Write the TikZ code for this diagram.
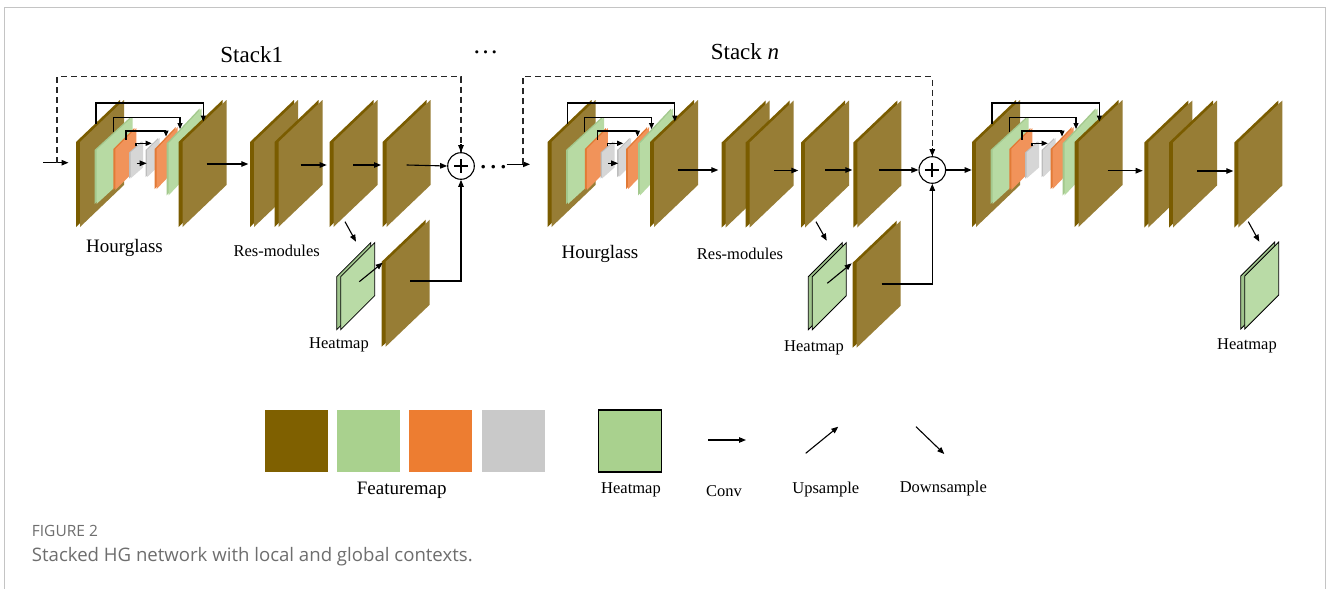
\documentclass[tikz,border=0pt]{standalone}
\usepackage{fontspec}
\setmainfont{Liberation Serif}
\newfontfamily\capfont{Open Sans}
\usetikzlibrary{arrows.meta}
\definecolor{brF}{HTML}{977D35}
\definecolor{brD}{HTML}{7A5C00}
\definecolor{brL}{HTML}{7F6000}
\definecolor{grF}{HTML}{B7DAA3}
\definecolor{grD}{HTML}{A3C88D}
\definecolor{grL}{HTML}{A9D18E}
\definecolor{orF}{HTML}{F1935A}
\definecolor{orD}{HTML}{E27A36}
\definecolor{orL}{HTML}{ED7D31}
\definecolor{gyF}{HTML}{D6D6D6}
\definecolor{gyD}{HTML}{BDBDBD}
\definecolor{gyL}{HTML}{C9C9C9}
\definecolor{hmF}{HTML}{B9DBA6}
\definecolor{hmD}{HTML}{9FC48C}
\definecolor{capgray}{HTML}{6E6E6E}
\definecolor{framegray}{HTML}{C4C4C4}
% x, ytop, thickness, width, rise, height, front colour, edge colour
\newcommand{\plate}[8]{%
  \fill[#8] (#1,#2) -- ++(#4,-#5) -- ++(0,#6) -- ++(-#4,#5) -- cycle;
  \fill[#7] ({#1+#3},#2) -- ++(#4,-#5) -- ++(0,#6) -- ++(-#4,#5) -- cycle;}
\newcommand{\bplate}[2]{\plate{#1}{#2}{4}{44}{42}{85}{brF}{brD}}
\newcommand{\hplate}[2]{%
  \filldraw[fill=hmD,draw=black,line width=0.8pt] (#1,#2) -- ++(34,-34) -- ++(0,53) -- ++(-34,34) -- cycle;
  \filldraw[fill=hmF,draw=black,line width=0.8pt] ({#1+4},#2) -- ++(34,-34) -- ++(0,53) -- ++(-34,34) -- cycle;}
\newcommand{\hourglassblock}{%
  \bplate{76}{142}
  \plate{94.5}{150}{2}{36}{33}{54}{grF}{grD}
  \plate{113.3}{149}{2}{21}{21}{41}{orF}{orD}
  \plate{129}{152.5}{1.5}{12.5}{11}{26}{gyF}{gyD}
  \plate{145.7}{150}{1.5}{12.5}{12}{27}{gyF}{gyD}
  \plate{154.7}{149}{2}{21}{22}{40}{orF}{orD}
  \plate{166.5}{143.5}{2}{33}{35}{52}{grF}{grD}
  \bplate{178.5}{142}
  \draw[sarr] (96,124) |- (203.3,103) -- (203.3,121.5);
  \draw[sarr] (113.3,132) |- (180,117.3) -- (180,129);
  \draw[sarr] (126,139.5) |- (166,131) -- (166,136.5);
  \draw[sarr] (136,146) |- (151.7,143.3);}
\begin{document}
\begin{tikzpicture}[x=1pt,y=-1pt,
  arr/.style={line width=1.1pt,-{Triangle[length=7pt,width=5.5pt]}},
  sarr/.style={line width=1.1pt,-{Triangle[length=6pt,width=5pt]}},
  dline/.style={line width=1.2pt,dash pattern=on 6pt off 4pt,draw=black!85},
  plus/.style={circle,draw,line width=1.1pt,minimum size=26.6pt,inner sep=0pt},
  lbl/.style={inner sep=0pt,font=\fontsize{16.5}{18}\selectfont},
  big/.style={inner sep=0pt,font=\fontsize{19}{21}\selectfont},
  legsq/.style={minimum width=63pt,minimum height=62pt,inner sep=0pt}]
\useasboundingbox (0,0) rectangle (1328,589);
\fill[white] (0,0) rectangle (1328,589);
\draw[framegray,line width=1.5pt] (4.5,589) -- (4.5,7.5) -- (1325.5,7.5) -- (1325.5,589);

% ---------------- titles
\node[inner sep=0pt,font=\fontsize{23}{25}\selectfont] (t1) at (251.7,55) {Stack1};
\node[inner sep=0pt,anchor=base,font=\fontsize{26}{26}\selectfont] (tdots) at (485.7,53) {…};
\node[inner sep=0pt,font=\fontsize{23}{25}\selectfont] (t2) at (745,52) {Stack \textit{n}};

% ---------------- stack 1
\hourglassblock
\draw[arr] (136.7,163.3) -- (146.7,163.3);
\bplate{250}{142}
\bplate{274.5}{142}
\bplate{329.5}{142}
\bplate{382.5}{142}
\hplate{336.7}{276.7}
\bplate{381.7}{261.7}
\node[plus] (p1) at (461,166) {};
\draw[line width=2.2pt] (p1.center) +(-7,0) -- +(7,0) (p1.center) +(0,-7) -- +(0,7);
\coordinate (in1) at (43.3,162.7);
\coordinate (dd1) at (57,162.7);
\draw[arr] (in1) -- (68.5,162.7);
\draw[dline] (dd1) -- (57,76.7) -| (p1.north);
\draw[arr] (p1.north) ++(0,-8) -- (p1.north);
\draw[arr] (206.7,164) -- (248.3,164);
\draw[arr] (300.7,165) -- (326.7,165);
\draw[arr] (353.3,165) -- (381,165);
\draw[arr] (406.7,165) -- (p1.west);
\draw[arr] (345,221.7) -- (356,241.7);
\draw[arr] (359.3,281.7) -- (382.7,262.7);
\coordinate (r5a) at (410,281);
\draw[arr] (r5a) -| (p1.south);
\node[big] (hg1) at (124.5,248) {Hourglass};
\node[lbl] (rm1) at (276.7,250.7) {Res-modules};
\node[lbl] (hm1) at (339,345) {Heatmap};
\node[inner sep=0pt,anchor=base,font=\fontsize{30}{30}\selectfont] (mdots) at (493.3,168) {…};

% ---------------- stack 2
\begin{scope}[xshift=471.5pt]
\hourglassblock
\draw[arr] (136.7,163.3) -- (146.7,163.3);
\end{scope}
\bplate{721.7}{142.5}
\bplate{745.7}{142.5}
\bplate{801}{142.5}
\bplate{853.3}{142.5}
\hplate{808.3}{276.7}
\bplate{852.7}{262.7}
\node[plus] (p2) at (932.3,170) {};
\draw[line width=2.2pt] (p2.center) +(-7,0) -- +(7,0) (p2.center) +(0,-7) -- +(0,7);
\coordinate (in2) at (506.7,164.3);
\coordinate (dd2) at (523,164.3);
\draw[arr] (in2) -- (530,164.3);
\draw[dline] (dd2) -- (523,76.7) -| (p2.north);
\draw[arr] (p2.north) ++(0,-8) -- (p2.north);
\draw[arr] (677.7,170) -- (718.3,170);
\draw[arr] (774,170.5) -- (798.3,170.5);
\draw[arr] (825,170) -- (852.3,170);
\draw[arr] (879,170) -- (p2.west);
\draw[arr] (816,221.7) -- (826.7,240.7);
\draw[arr] (827.3,283.3) -- (851.7,263.3);
\coordinate (r5b) at (881.7,284);
\draw[arr] (r5b) -| (p2.south);
\node[big] (hg2) at (600,254) {Hourglass};
\node[lbl] (rm2) at (740,254) {Res-modules};
\node[lbl] (hm2) at (814,348) {Heatmap};

% ---------------- stack 3
\begin{scope}[xshift=896pt]
\hourglassblock
\end{scope}
\draw[arr] (p2.east) -- (971.7,170);
\draw[arr] (1107.7,170.7) -- (1142.7,170.7);
\bplate{1144.3}{142.5}
\bplate{1169}{142.5}
\bplate{1234.3}{142.5}
\draw[arr] (1197.3,171) -- (1233.3,171);
\draw[arr] (1248.3,221.7) -- (1259.3,241.7);
\hplate{1240.7}{276}
\node[lbl] (hm3) at (1247,346) {Heatmap};

% ---------------- legend
\node[legsq,fill=brL] (lb) at (296.7,441) {};
\node[legsq,fill=grL] (lg) at (368.7,441) {};
\node[legsq,fill=orL] (lo) at (440.7,441) {};
\node[legsq,fill=gyL] (ly) at (513.3,441) {};
\node[big] (lfm) at (401.7,490) {Featuremap};
\node[legsq,fill=grL,draw=black,line width=1.5pt] (lh) at (630,441) {};
\node[lbl] (lhm) at (631,490) {Heatmap};
\coordinate (cva) at (708.3,440);
\coordinate (cvb) at (746,440);
\draw[arr] (cva) -- (cvb);
\node[lbl] (lcv) at (724,490.7) {Conv};
\coordinate (upa) at (805.7,453.3);
\coordinate (upb) at (838.3,426.7);
\draw[arr] (upa) -- (upb);
\node[lbl] (lup) at (825.8,489.3) {Upsample};
\coordinate (dna) at (916,426.7);
\coordinate (dnb) at (944.3,454);
\draw[arr] (dna) -- (dnb);
\node[lbl] (ldn) at (943.3,488.7) {Downsample};

% ---------------- caption
\node[anchor=west,inner sep=0pt,text=capgray,font=\capfont\fontsize{15.5}{17}\selectfont] (fig) at (31.7,531) {FIGURE 2};
\node[anchor=west,inner sep=0pt,text=capgray,font=\capfont\fontsize{18.6}{21}\selectfont] (cap) at (31.7,557) {Stacked HG network with local and global contexts.};
\end{tikzpicture}
\end{document}
